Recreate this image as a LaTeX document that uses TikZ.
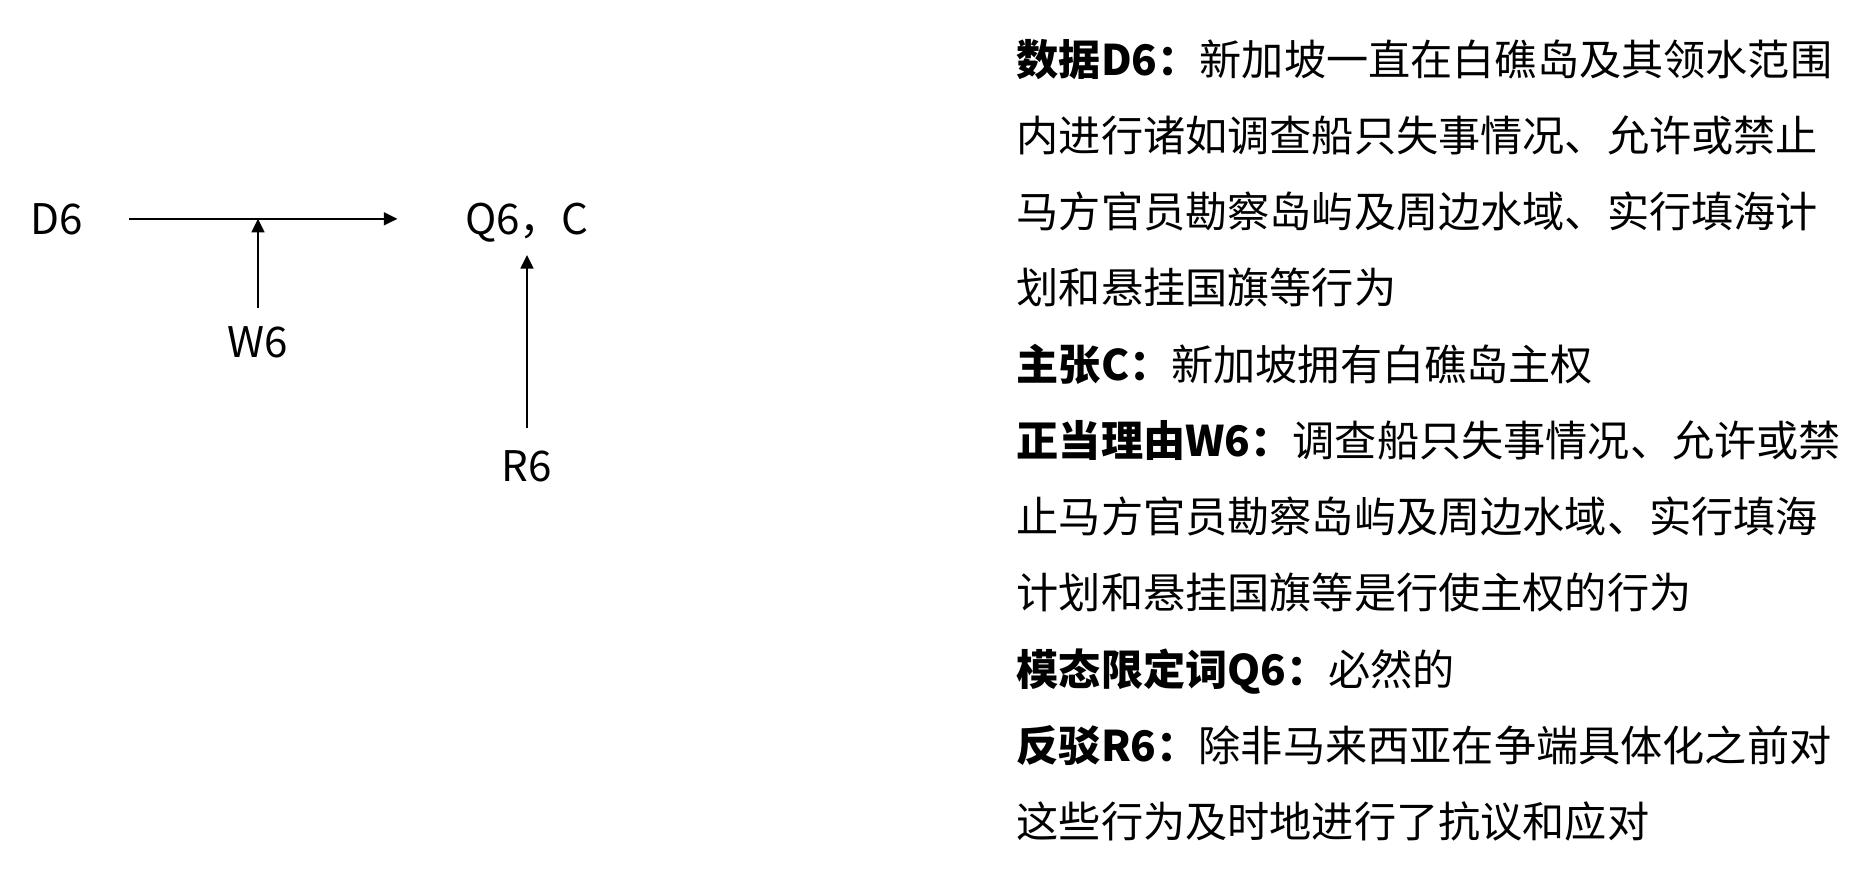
\documentclass[tikz,border=0pt]{standalone}
\usepackage{fontspec}
\setmainfont{Noto Sans CJK SC}
\usetikzlibrary{arrows.meta,positioning}

\begin{document}
\begin{tikzpicture}[
  tag/.style={inner sep=0pt,anchor=base,font=\fontsize{12pt}{14pt}\selectfont},
  flow/.style={-{Triangle[length=1.35mm,width=1.3mm]},line width=.4pt,draw=black},
  notes/.style={inner sep=0pt,anchor=base west,text width=84mm,align=left,
    font=\fontsize{12pt}{21.7pt}\selectfont}
]
\useasboundingbox (0,0) rectangle (18.59,-8.94);
\node[tag] (d6) at (0.57,-2.34) {D6};
\node[tag] (q6) at (5.27,-2.34) {Q6，C};
\node[tag] (w6) at (2.58,-3.57) {W6};
\node[tag] (r6) at (5.27,-4.81) {R6};
\draw[flow,shorten <=4.5mm,shorten >=6.7mm] (d6.east) -- (d6.east -| q6.west);
\draw[flow,shorten <=1.7mm] (w6.north) -- (w6.north |- d6.east);
\draw[flow,shorten <=2.1mm] (r6.north) -- ([yshift=-2.1mm]q6.base);
\node[notes] (txt) at (10.16,-0.75) {
  \textbf{数据D6：}新加坡一直在白礁岛及其领水范围\\
  内进行诸如调查船只失事情况、允许或禁止\\
  马方官员勘察岛屿及周边水域、实行填海计\\
  划和悬挂国旗等行为\\
  \textbf{主张C：}新加坡拥有白礁岛主权\\
  \textbf{正当理由W6：}调查船只失事情况、允许或禁\\
  止马方官员勘察岛屿及周边水域、实行填海\\
  计划和悬挂国旗等是行使主权的行为\\
  \textbf{模态限定词Q6：}必然的\\
  \textbf{反驳R6：}除非马来西亚在争端具体化之前对\\
  这些行为及时地进行了抗议和应对
};
\end{tikzpicture}
\end{document}
